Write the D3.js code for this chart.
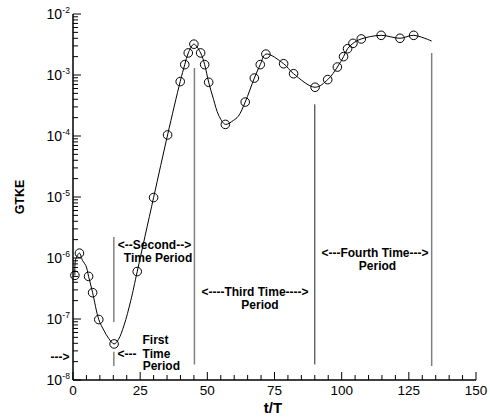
<!DOCTYPE html>
<html><head><meta charset="utf-8">
<script src="https://cdn.jsdelivr.net/npm/d3@7"></script>
<style>
body{margin:0;background:#fff;}
text{font-family:"Liberation Sans",Arial,sans-serif;}
</style></head>
<body><svg id="c" width="490" height="419"></svg>
<script>
// curve (t/T, GTKE)
const lineT = [0.7,1.0,2.4,3.6,4.8,5.8,7.3,9.6,11.5,13.3,15.3,16.9,19,21.5,23.9,30,35.2,39.9,41.6,42.9,45,47.5,49,50.5,52.3,54.2,56.7,59.7,61.5,64.1,67.5,69.7,71.8,78.4,82.1,90.1,94.8,98.4,100.7,102.2,104.2,107.3,114.7,121.7,126.8,133.5];
const lineV = [5.2e-7,9.5e-7,1.2e-6,9.0e-7,7.5e-7,5.0e-7,2.7e-7,9.8e-8,6.5e-8,4.8e-8,3.9e-8,4.6e-8,7.9e-8,2.0e-7,6.0e-7,9.8e-6,1.04e-4,7.8e-4,1.48e-3,2.3e-3,3.2e-3,2.3e-3,1.48e-3,7.6e-4,4.0e-4,2.2e-4,1.55e-4,1.8e-4,2.1e-4,3.6e-4,8.9e-4,1.48e-3,2.2e-3,1.53e-3,1.05e-3,6.3e-4,8.4e-4,1.35e-3,2.0e-3,2.7e-3,3.3e-3,3.9e-3,4.47e-3,4.0e-3,4.47e-3,3.6e-3];
// circle markers
const markT = [0.7,2.4,5.8,7.3,9.6,15.3,23.9,30,35.2,39.9,41.6,42.9,45,47.5,49,50.5,56.7,64.1,67.5,69.7,71.8,78.4,82.1,90.1,94.8,98.4,100.7,102.2,104.2,107.3,114.7,121.7,126.8];
const markV = [5.2e-7,1.2e-6,5.0e-7,2.7e-7,9.8e-8,3.9e-8,6.0e-7,9.8e-6,1.04e-4,7.8e-4,1.48e-3,2.3e-3,3.2e-3,2.3e-3,1.48e-3,7.6e-4,1.55e-4,3.6e-4,8.9e-4,1.48e-3,2.2e-3,1.53e-3,1.05e-3,6.3e-4,8.4e-4,1.35e-3,2.0e-3,2.7e-3,3.3e-3,3.9e-3,4.47e-3,4.0e-3,4.47e-3];
// period separator lines: t, lower and upper GTKE ends
const sepT = [15.2, 15.2, 45.2, 90, 133.5];
const sepLo = [8.9e-8, 1.7e-8, 1.8e-8, 1.8e-8, 1.7e-8];
const sepHi = [2.2e-6, 2.9e-8, 1.3e-3, 3.3e-4, 2.3e-3];
const sepColor = ["#808080","#808080","#808080","#222","#808080"];
const xTicks = [0,25,50,75,100,125,150];
const yExps = [-8,-7,-6,-5,-4,-3,-2];

const svg = d3.select("#c");
const x = d3.scaleLinear().domain([0,150]).range([73,476]);
const y = d3.scaleLog().domain([1e-8,1e-2]).range([380,14]);

// separators
sepT.forEach((t,i)=>{
  svg.append("line").attr("x1",x(t)).attr("x2",x(t)).attr("y1",y(sepLo[i])).attr("y2",y(sepHi[i]))
    .attr("stroke",sepColor[i]).attr("stroke-width",i===3?1:1.5);
});

// curve
const pts = lineT.map((t,i)=>[x(t),y(lineV[i])]);
svg.append("path").attr("d",d3.line().curve(d3.curveCatmullRom.alpha(0.5))(pts))
  .attr("fill","none").attr("stroke","#000").attr("stroke-width",1);

svg.selectAll("circle.m").data(markT).enter().append("circle")
  .attr("cx",d=>x(d)).attr("cy",(d,i)=>y(markV[i])).attr("r",4.3)
  .attr("fill","none").attr("stroke","#000").attr("stroke-width",1);

// axes
const ax = svg.append("g").attr("stroke","#000");
ax.append("line").attr("x1",73).attr("x2",73).attr("y1",y(1e-2)).attr("y2",y(1e-8)).attr("stroke-width",1.5);
ax.append("line").attr("x1",x(0)).attr("x2",x(150)).attr("y1",380).attr("y2",380).attr("stroke-width",1.5);
d3.range(0,151,5).forEach(v=>{
  const major = v%25===0;
  ax.append("line").attr("x1",x(v)).attr("x2",x(v)).attr("y1",380).attr("y2",380-(major?8:5)).attr("stroke-width",1);
});
xTicks.forEach(v=>{
  svg.append("text").attr("x",x(v)).attr("y",395).attr("text-anchor","middle")
    .attr("font-size",13.5).text(v);
});
yExps.forEach(e=>{
  ax.append("line").attr("x1",73).attr("x2",81).attr("y1",y(Math.pow(10,e))).attr("y2",y(Math.pow(10,e))).attr("stroke-width",1);
  if(e<-2){
    for(let k=2;k<=9;k++){
      const v=k*Math.pow(10,e);
      ax.append("line").attr("x1",73).attr("x2",78).attr("y1",y(v)).attr("y2",y(v)).attr("stroke-width",1);
    }
  }
  svg.append("text").attr("x",62).attr("y",y(Math.pow(10,e))+4.5).attr("text-anchor","end").attr("font-size",14).text("10");
  svg.append("text").attr("x",62.3).attr("y",y(Math.pow(10,e))-1.5).attr("font-size",8.5).text("-"+(-e));
});

// axis titles
svg.append("text").attr("transform","translate(24,197) rotate(-90)").attr("text-anchor","middle")
  .attr("font-size",12.5).attr("font-weight","bold").text("GTKE");
svg.append("text").attr("x",273).attr("y",413).attr("text-anchor","middle")
  .attr("font-size",15).attr("font-weight","bold").text("t/T");

// annotations
const ann = [
  ["<--Second-->",154.5,249],["Time Period",158,262],
  ["<----Third Time---->",255,296],["Period",260,308.5],
  ["<---Fourth Time--->",375,257],["Period",377.5,269.5],
  ["First",155.5,344],["Time",156.5,357.5],["Period",161.3,370],
  ["<---",127,357.5],["--->",60,360.5]
];
ann.forEach(a=>{
  svg.append("text").attr("x",a[1]).attr("y",a[2]).attr("text-anchor","middle")
    .attr("font-size",12).attr("font-weight","bold").text(a[0]);
});
</script></body></html>
